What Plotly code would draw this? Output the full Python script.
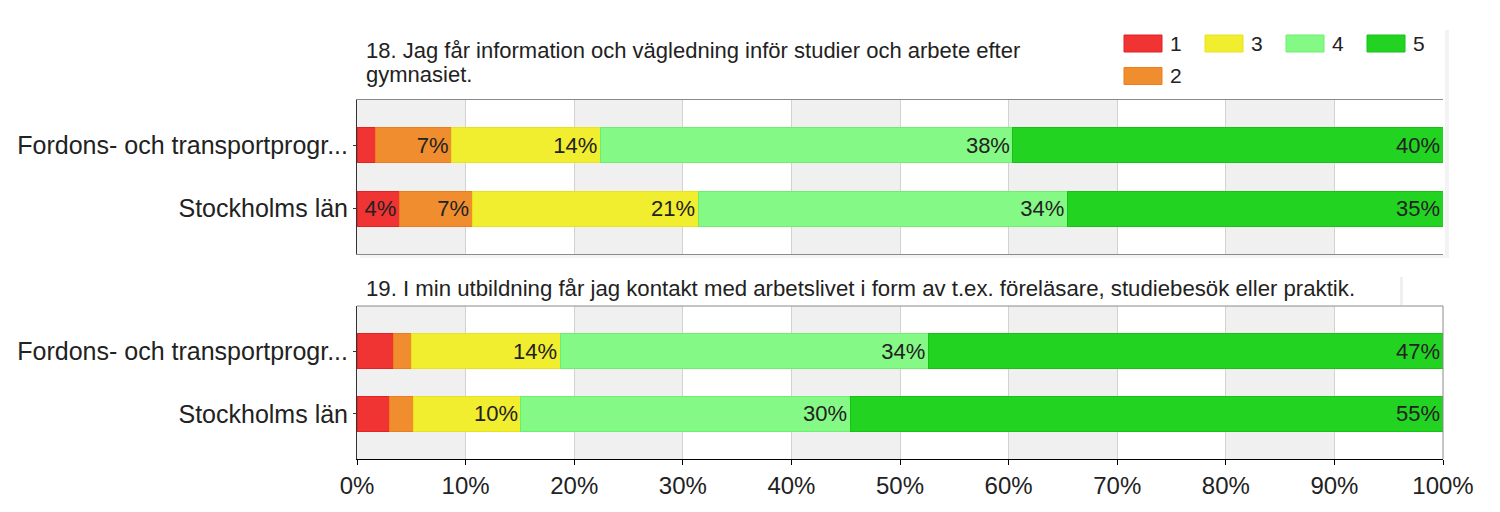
import plotly.graph_objects as go

# ---------------- data ----------------
categories = ["Fordons- och transportprogr...", "Stockholms län"]
levels = ["1", "2", "3", "4", "5"]
level_colors = ["#f03333", "#f08d2e", "#f1ed2f", "#85f985", "#22d322"]
level_edges = ["#e42222", "#ea7e1c", "#e8e31c", "#6cef6c", "#16c216"]

q18_title = "18. Jag får information och vägledning inför studier och arbete efter<br>gymnasiet."
q18_level1 = [1.7, 3.9]
q18_level2 = [7.0, 6.7]
q18_level3 = [13.7, 20.8]
q18_level4 = [38.0, 34.0]
q18_level5 = [39.6, 34.6]

q19_title = "19. I min utbildning får jag kontakt med arbetslivet i form av t.ex. föreläsare, studiebesök eller praktik."
q19_level1 = [3.4, 3.0]
q19_level2 = [1.6, 2.2]
q19_level3 = [13.7, 9.9]
q19_level4 = [33.9, 30.3]
q19_level5 = [47.4, 54.6]

x_tick_values = [0, 10, 20, 30, 40, 50, 60, 70, 80, 90, 100]
x_tick_labels = ["0%", "10%", "20%", "30%", "40%", "50%", "60%", "70%", "80%", "90%", "100%"]

# ---------------- layout geometry ----------------
W, H = 1500, 512
L, R, T, B = 357, 57, 100, 53
PW, PH = W - L - R, H - T - B


def px_x(p):
    return (p - L) / PW


def px_y(p):
    return (H - B - p) / PH


FONT = "Liberation Sans, Arial, sans-serif"
TXT = "#222222"

fig = go.Figure()


def add_question(series, xa, ya):
    for name, vals, col, edge in zip(levels, series, level_colors, level_edges):
        fig.add_trace(go.Bar(
            y=categories, x=vals, orientation="h", name=name,
            marker=dict(color=col, line=dict(color=edge, width=1)),
            text=[f"{round(v)}%" if v >= 3.5 else "" for v in vals],
            textposition="inside", insidetextanchor="end", textangle=0,
            textfont=dict(size=22, color=TXT, family=FONT),
            width=0.555, xaxis=xa, yaxis=ya, showlegend=False,
            cliponaxis=False,
        ))


add_question([q18_level1, q18_level2, q18_level3, q18_level4, q18_level5], "x", "y")
add_question([q19_level1, q19_level2, q19_level3, q19_level4, q19_level5], "x2", "y2")

top_dom = [px_y(254), 1.0]
bot_dom = [0.0, px_y(306)]

common_x = dict(range=[0, 100], tickvals=x_tick_values, showgrid=True,
                gridcolor="#d2d2d2", gridwidth=1, zeroline=False, fixedrange=True)
common_y = dict(type="category", categoryorder="array", categoryarray=categories,
                range=[1.72, -0.72], ticks="outside", ticklen=3, tickcolor="#333",
                tickfont=dict(size=25, color=TXT, family=FONT), showgrid=False,
                showline=True, linecolor="#333333", linewidth=1, zeroline=False,
                fixedrange=True)

fig.update_layout(
    width=W, height=H, barmode="stack",
    margin=dict(l=L, r=R, t=T, b=B, pad=0),
    paper_bgcolor="white", plot_bgcolor="white",
    font=dict(family=FONT, color=TXT),
    showlegend=False,
    xaxis=dict(domain=[0, 1], anchor="y", showticklabels=False, ticks="",
               showline=True, linecolor="#8a8a8a", mirror=True, **common_x),
    yaxis=dict(domain=top_dom, anchor="x", **common_y),
    xaxis2=dict(domain=[0, 1], anchor="y2", ticktext=x_tick_labels, ticks="outside",
                ticklen=5, tickcolor="#000", showline=True, linecolor="#000000",
                tickfont=dict(size=24, color=TXT, family=FONT), **common_x),
    yaxis2=dict(domain=bot_dom, anchor="x2", **common_y),
)

shapes = []
# alternating grey bands
for xr, yr in (("x", "y domain"), ("x2", "y2 domain")):
    for a, b in zip(x_tick_values[:-1:2], x_tick_values[1::2]):
        shapes.append(dict(type="rect", xref=xr, yref=yr, x0=a, x1=b, y0=0, y1=1,
                           fillcolor="#f0f0f0", line=dict(width=0), layer="below"))
# grey top / right border of the lower panel
shapes.append(dict(type="line", xref="x2 domain", yref="y2 domain", x0=0, x1=1, y0=1, y1=1,
                   line=dict(color="#8a8a8a", width=1)))
shapes.append(dict(type="line", xref="x2 domain", yref="y2 domain", x0=1, x1=1, y0=0, y1=1,
                   line=dict(color="#8a8a8a", width=1)))
# soft panel shadows
shapes.append(dict(type="rect", xref="paper", yref="paper", x0=px_x(1445), x1=px_x(1449),
                   y0=px_y(258), y1=px_y(30), fillcolor="#f3f3f3", line=dict(width=0), layer="below"))
shapes.append(dict(type="rect", xref="paper", yref="paper", x0=px_x(1400), x1=px_x(1403),
                   y0=px_y(305), y1=px_y(277), fillcolor="#f0f0f0", line=dict(width=0), layer="below"))
shapes.append(dict(type="rect", xref="paper", yref="paper", x0=px_x(360), x1=px_x(1447),
                   y0=px_y(258), y1=px_y(255), fillcolor="#f5f5f5", line=dict(width=0), layer="below"))

annotations = []
for i, line in enumerate(q18_title.split("<br>")):
    annotations.append(dict(text=line, xref="paper", yref="paper", x=px_x(364), y=px_y(50 + 25 * i),
                            xanchor="left", yanchor="middle", align="left", showarrow=False,
                            font=dict(size=22, color=TXT, family=FONT)))
annotations.append(dict(text=q19_title, xref="paper", yref="paper", x=px_x(364), y=px_y(288),
                        xanchor="left", yanchor="middle", align="left", showarrow=False,
                        font=dict(size=22.2, color=TXT, family=FONT)))

# legend (swatch + label), laid out like the reference
legend_slots = {"1": (1124, 43.5), "2": (1124, 76), "3": (1205, 43.5), "4": (1286, 43.5), "5": (1367, 43.5)}
for name, col, edge in zip(levels, level_colors, level_edges):
    sx, sy = legend_slots[name]
    shapes.append(dict(type="rect", xref="paper", yref="paper",
                       x0=px_x(sx), x1=px_x(sx + 38), y0=px_y(sy + 8.5), y1=px_y(sy - 8.5),
                       fillcolor=col, line=dict(color=edge, width=1)))
    annotations.append(dict(text=name, xref="paper", yref="paper", x=px_x(sx + 44), y=px_y(sy),
                            xanchor="left", yanchor="middle", showarrow=False,
                            font=dict(size=21, color=TXT, family=FONT)))

fig.update_layout(shapes=shapes, annotations=annotations)

fig.write_html("out.html", config={"displayModeBar": False},
               post_script="document.body.style.margin='0px';")
